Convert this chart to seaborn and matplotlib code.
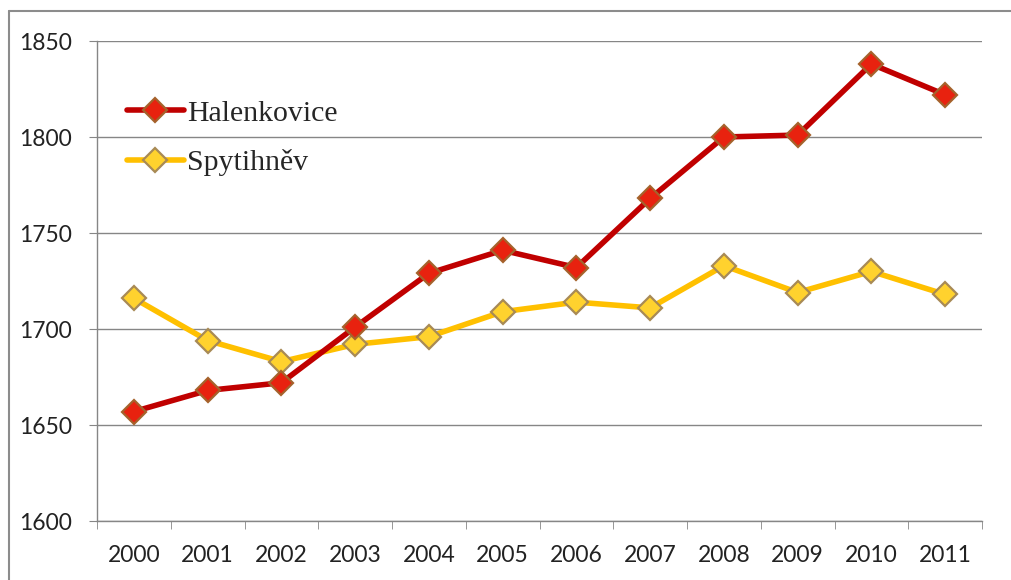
#!/usr/bin/env python3
import pandas as pd
import seaborn as sns
import matplotlib.pyplot as plt
from matplotlib.lines import Line2D
from matplotlib.ticker import MultipleLocator

years = ['2000', '2001', '2002', '2003', '2004', '2005',
         '2006', '2007', '2008', '2009', '2010', '2011']
halenkovice = [1657, 1668, 1672, 1701, 1729, 1741, 1732, 1768, 1800, 1801, 1838, 1822]
spytihnev = [1716, 1694, 1683, 1692, 1696, 1709, 1714, 1711, 1733, 1719, 1730, 1718]

df = pd.DataFrame({'pos': range(len(years)), 'year': years,
                   'Halenkovice': halenkovice, 'Spytihněv': spytihnev})

sns.set_style('white')
plt.rcParams['font.family'] = ['Lato', 'DejaVu Sans']

fig = plt.figure(figsize=(10.11, 5.8), dpi=100)
ax = fig.add_axes([97 / 1011, 1 - 521 / 580, 885 / 1011, 480 / 580])

grey = '#868686'
sns.lineplot(data=df, x='pos', y='Halenkovice', ax=ax, color='#c00000', lw=4,
             marker='D', markersize=12.5, markerfacecolor='#e8220f',
             markeredgecolor='#a5622c', markeredgewidth=1.6, label='Halenkovice',
             zorder=3)
sns.lineplot(data=df, x='pos', y='Spytihněv', ax=ax, color='#ffc000', lw=4,
             marker='D', markersize=12.5, markerfacecolor='#ffd22e',
             markeredgecolor='#a88a55', markeredgewidth=1.6, label='Spytihněv',
             zorder=2)

ax.set_xlim(-0.5, len(years) - 0.5)
ax.set_ylim(1600, 1850)
ax.yaxis.set_major_locator(MultipleLocator(50))
ax.set_xticks(range(len(years)))
ax.set_xticklabels(years)
ax.set_xticks([i - 0.5 for i in range(len(years) + 1)], minor=True)
ax.set_xlabel('')
ax.set_ylabel('')

ax.grid(axis='y', color=grey, lw=1)
ax.grid(axis='x', visible=False)
for side in ['top', 'right']:
    ax.spines[side].set_visible(False)
for side in ['left', 'bottom']:
    ax.spines[side].set_color(grey)
    ax.spines[side].set_linewidth(1)

ax.tick_params(axis='y', which='major', left=True, length=6, color=grey,
               labelsize=16.5, pad=12, labelcolor='#222222')
ax.tick_params(axis='x', which='major', bottom=False, length=0,
               labelsize=16.5, pad=17, labelcolor='#222222')
ax.tick_params(axis='x', which='minor', bottom=True, length=6, color=grey)

leg = ax.legend(loc='upper left', bbox_to_anchor=(0.034, 0.877), frameon=False,
                prop={'family': 'Liberation Serif', 'size': 21.5},
                handlelength=1.9, handletextpad=0.1, labelspacing=0.75,
                borderpad=0, borderaxespad=0)

# outer chart frame (cut off at right and bottom)
fig.add_artist(Line2D([8.5 / 1011, 8.5 / 1011], [0, 1 - 11 / 580],
                      transform=fig.transFigure, color='#8c8c8c', lw=1.5))
fig.add_artist(Line2D([8.5 / 1011, 1], [1 - 11 / 580, 1 - 11 / 580],
                      transform=fig.transFigure, color='#8c8c8c', lw=1.5))

fig.savefig('out.png', dpi=100)
